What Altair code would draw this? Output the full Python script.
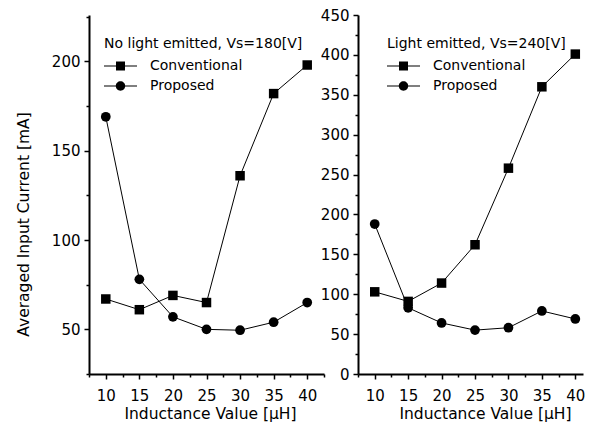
import altair as alt
import pandas as pd

FONT = "DejaVu Sans"

inductance = [10, 15, 20, 25, 30, 35, 40]
series_names = ["Conventional", "Proposed"]

left_conventional = [67, 61, 69, 65, 136, 182, 198]
left_proposed = [169, 78, 57, 50, 49.5, 54, 65]
right_conventional = [103, 91, 114, 162, 258, 360, 401]
right_proposed = [188, 83, 64, 55, 58, 79, 69]

left_legend_title = "No light emitted, Vs=180[V]"
right_legend_title = "Light emitted, Vs=240[V]"
x_title = "Inductance Value [\u03bcH]"
y_title = "Averaged Input Current [mA]"

x_tick_values = [7.5, 10, 12.5, 15, 17.5, 20, 22.5, 25, 27.5, 30, 32.5, 35, 37.5, 40, 42.5]
left_y_ticks = [25, 50, 75, 100, 125, 150, 175, 200, 225]
right_y_ticks = [0, 25, 50, 75, 100, 125, 150, 175, 200, 225, 250, 275, 300, 325,
                 350, 375, 400, 425, 450]

# legend glyphs: a line with the marker on it
conv_glyph = "M-1,-0.06H2.3V0.06H-1Z M0.2,-0.45H1.1V0.45H0.2Z"
prop_glyph = "M-1,-0.06H2.3V0.06H-1Z M1.12,0A0.47,0.47 0 1,1 0.18,0A0.47,0.47 0 1,1 1.12,0Z"


def minor_dash(test):
    return {"condition": {"test": test, "value": [10, 0]}, "value": [3, 10]}


def panel(conv, prop, xdom, ydom, yticks, ytitle, ltitle, width, height,
          lx, ly, xtitle_x, ytitle_kw):
    df = pd.DataFrame({
        "L": inductance + inductance,
        "I": conv + prop,
        "series": [series_names[0]] * len(inductance) + [series_names[1]] * len(inductance),
    })
    xt = [v for v in x_tick_values if v <= xdom[1]]
    x = alt.X(
        "L:Q",
        scale=alt.Scale(domain=xdom, nice=False, zero=False),
        axis=alt.Axis(
            values=xt,
            title=x_title,
            labelExpr="datum.value % 5 === 0 ? datum.label : ''",
            tickSize=5,
            tickDash=minor_dash("datum.value % 5 === 0"),
            labelPadding=9,
            labelFlush=False,
            labelOverlap=False,
            titleX=xtitle_x,
            titleY=32,
            titleBaseline="top",
        ),
    )
    y_axis_kw = dict(
        values=yticks,
        labelExpr="datum.value % 50 === 0 ? datum.label : ''",
        tickSize=5,
        tickDash=minor_dash("datum.value % 50 === 0"),
        labelPadding=4,
        labelFlush=False,
        labelOverlap=False,
    )
    y_axis_kw.update(ytitle_kw)
    y = alt.Y(
        "I:Q",
        scale=alt.Scale(domain=ydom, nice=False, zero=False),
        axis=alt.Axis(**y_axis_kw),
        title=ytitle if ytitle else None,
    )
    base = alt.Chart(df)
    line = base.mark_line(color="black", strokeWidth=1).encode(x=x, y=y, detail="series:N")
    pts = base.mark_point(filled=True, color="black", opacity=1).encode(
        x=x,
        y=y,
        shape=alt.Shape("series:N", scale=alt.Scale(domain=series_names, range=["square", "circle"]), legend=None),
        size=alt.Size("series:N", scale=alt.Scale(domain=series_names, range=[90, 95]), legend=None),
    )
    # legend-only layer: no rows survive the filter, the legend comes from the fixed domain
    leg = base.transform_filter("datum.L > 1000").mark_point(
        filled=True, color="black", opacity=0, size=400
    ).encode(
        x=x,
        y=y,
        shape=alt.Shape(
            "series:N",
            scale=alt.Scale(domain=series_names, range=[conv_glyph, prop_glyph]),
            legend=alt.Legend(
                title=ltitle,
                orient="none",
                legendX=lx,
                legendY=ly,
                padding=0,
                titleFont=FONT,
                titleFontSize=14,
                titleFontWeight="normal",
                titleColor="black",
                titlePadding=5,
                titleLimit=400,
                labelFont=FONT,
                labelFontSize=14,
                labelColor="black",
                labelOffset=26,
                labelLimit=300,
                symbolSize=400,
                symbolFillColor="black",
                symbolStrokeColor="black",
                symbolStrokeWidth=0,
                symbolOpacity=1,
                rowPadding=3,
            ),
        ),
    )
    return alt.layer(line, pts, leg).resolve_scale(shape="independent").properties(
        width=width, height=height
    )


left = panel(left_conventional, left_proposed, [7.5, 42.5], [25, 226], left_y_ticks, y_title,
             left_legend_title, 235, 359, 15, 22, 121,
             dict(titleX=-61, titleY=209, titleBaseline="alphabetic"))
right = panel(right_conventional, right_proposed, [7.5, 41.15], [0, 450], right_y_ticks, "",
              right_legend_title, 225, 359, 29, 22, 127, dict())

chart = (
    alt.hconcat(left, right, spacing=34, bounds="flush")
    .resolve_scale(shape="independent", size="independent")
    .resolve_legend(shape="independent")
    .properties(padding={"left": 8, "top": 0, "right": 0, "bottom": 0}, background="white")
    .configure_view(strokeWidth=0)
    .configure_axis(
        domainColor="black",
        domainWidth=2,
        tickColor="black",
        tickWidth=1.5,
        labelColor="black",
        labelFont=FONT,
        labelFontSize=15,
        titleFont=FONT,
        titleFontSize=15.5,
        titleFontWeight="normal",
        titleColor="black",
        grid=False,
    )
)

chart.save("out.html", embed_options={"renderer": "svg", "actions": False})
